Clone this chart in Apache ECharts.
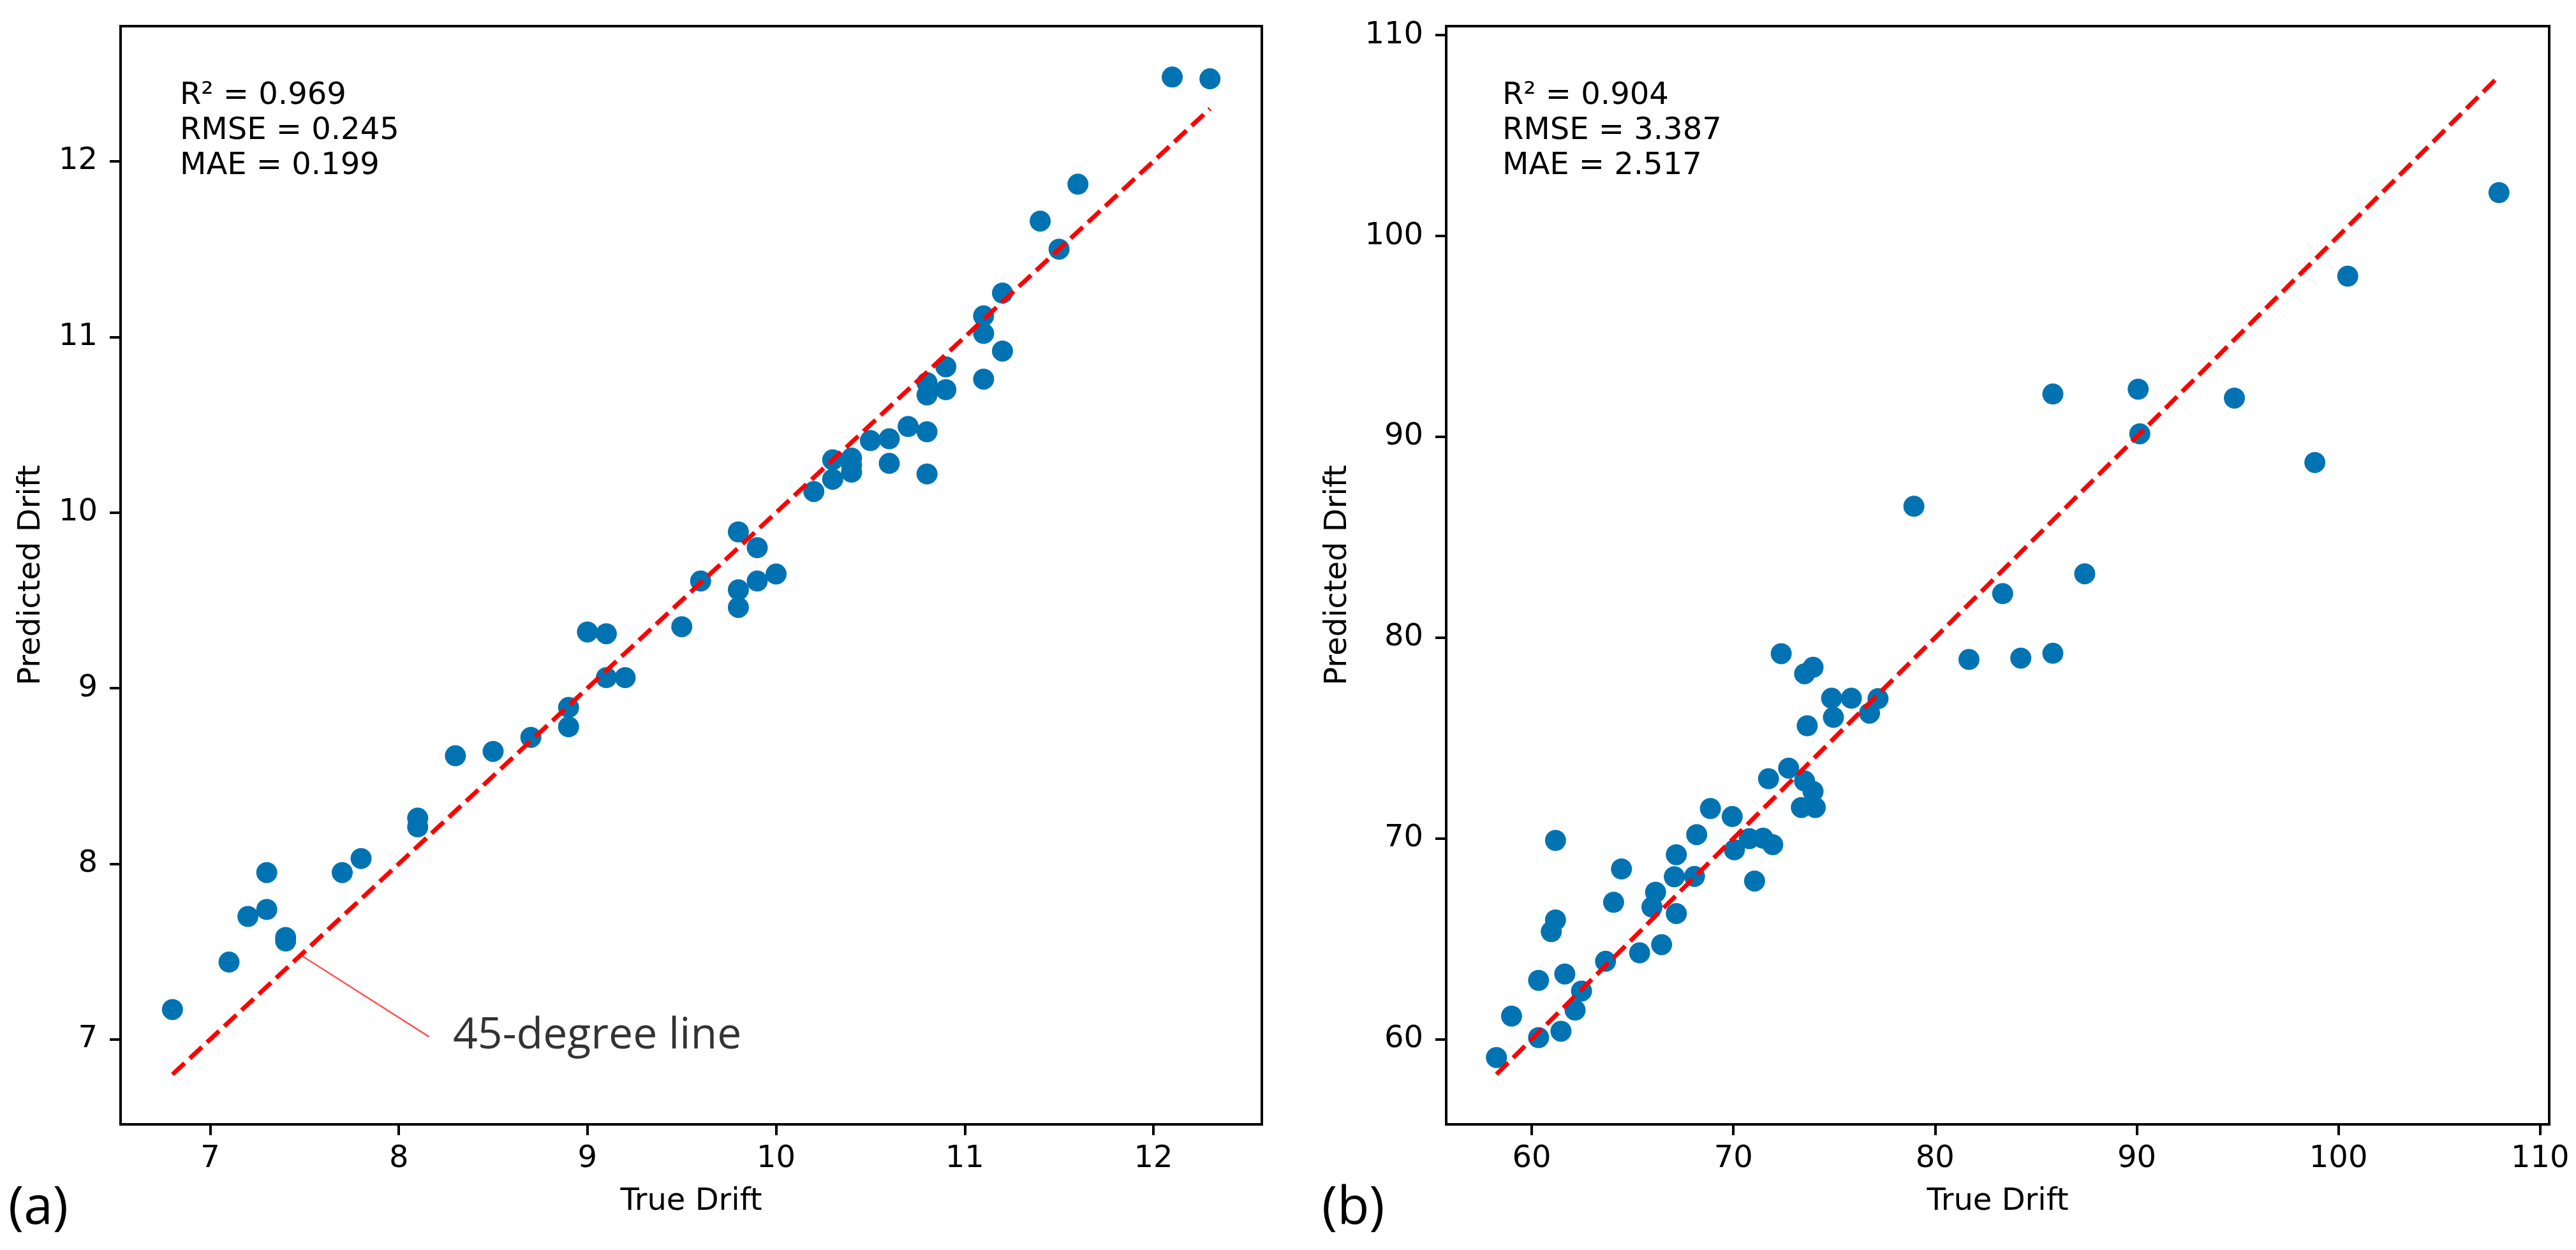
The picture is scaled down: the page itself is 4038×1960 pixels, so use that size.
<!DOCTYPE html>
<html><head><meta charset="utf-8">
<script src="https://cdn.jsdelivr.net/npm/echarts@6/dist/echarts.min.js"></script>
<style>html,body{margin:0;padding:0;background:#fff}#c{width:4038px;height:1960px}</style>
</head><body><div id="c"></div><script>
// ---- data ----
const leftTrue = [6.8,7.1,7.2,7.3,7.3,7.4,7.4,7.7,7.8,8.1,8.1,8.3,8.5,8.7,8.9,8.9,9.0,9.1,9.1,9.2,9.5,9.6,9.8,9.8,9.8,9.9,9.9,10.0,10.2,10.3,10.3,10.4,10.4,10.4,10.5,10.6,10.6,10.7,10.8,10.8,10.8,10.8,10.9,10.9,11.1,11.1,11.1,11.2,11.2,11.4,11.5,11.6,12.1,12.3];
const leftPred = [7.17,7.44,7.70,7.95,7.74,7.58,7.56,7.95,8.03,8.26,8.21,8.615,8.64,8.72,8.89,8.78,9.32,9.31,9.06,9.06,9.35,9.61,9.89,9.56,9.46,9.80,9.61,9.65,10.12,10.30,10.19,10.31,10.27,10.23,10.41,10.42,10.28,10.49,10.74,10.67,10.46,10.22,10.83,10.70,11.12,11.02,10.76,11.25,10.92,11.66,11.50,11.87,12.48,12.47];
const rightTrue = [58.25,59.0,60.34,60.34,60.97,61.18,61.18,61.45,61.64,62.15,62.47,63.66,64.06,64.45,65.35,65.96,66.14,66.44,67.07,67.17,67.17,68.07,68.18,68.86,69.94,70.05,70.79,71.05,71.47,71.95,71.74,72.74,72.37,73.53,73.95,73.66,73.37,73.53,73.95,74.06,74.87,74.96,75.85,76.75,77.17,78.95,81.68,83.35,84.25,85.84,85.84,87.42,90.07,90.15,94.84,98.83,100.46,107.96];
const rightPred = [59.09,61.15,62.93,60.08,65.36,65.94,69.90,60.40,63.25,61.45,62.40,63.88,66.82,68.48,64.30,66.58,67.32,64.71,68.09,69.19,66.26,68.11,70.19,71.49,71.09,69.43,69.99,67.88,70.01,69.69,72.97,73.50,79.20,78.20,78.52,75.61,71.54,72.86,72.34,71.54,76.98,76.03,76.98,76.24,76.96,86.54,78.91,82.19,78.98,92.13,79.22,83.18,92.37,90.15,91.93,88.72,98.0,102.16];
const leftTicks = [7,8,9,10,11,12];
const rightTicks = [60,70,80,90,100,110];
const leftStats = ['R\u00b2 = 0.969','RMSE = 0.245','MAE = 0.199'];
const rightStats = ['R\u00b2 = 0.904','RMSE = 3.387','MAE = 2.517'];
const panelTags = ['(a)','(b)'];
const annotationText = '45-degree line';
const annotationArrow = [[7.48,7.48],[8.16,7.015]];
const annotationAnchor = [8.285,7.02];

// ---- styling ----
const F = 'DejaVu Sans';
const F2 = 'Open Sans';
const BLUE = '#0173b2';
const zip = (a,b)=>a.map((v,i)=>[v,b[i]]);
const diag = arr => { const lo=Math.min(...arr), hi=Math.max(...arr); return [[lo,lo],[hi,hi]]; };

function xAx(g,min,max,ticks){
  return {type:'value',gridIndex:g,min:min,max:max,name:'True Drift',nameLocation:'middle',nameGap:98,
    nameTextStyle:{fontFamily:F,fontSize:48,color:'#000'},
    axisLine:{show:true,onZero:false,lineStyle:{color:'#000',width:4}},
    axisTick:{show:true,length:17,lineStyle:{color:'#000',width:4},customValues:ticks},
    axisLabel:{show:true,margin:31,fontFamily:F,fontSize:48,color:'#000',customValues:ticks},
    splitLine:{show:false}};
}
function yAx(g,min,max,ticks,gap){
  return {type:'value',gridIndex:g,min:min,max:max,name:'Predicted Drift',nameLocation:'middle',nameGap:gap,nameRotate:90,
    nameTextStyle:{fontFamily:F,fontSize:48,color:'#000'},
    axisLine:{show:true,onZero:false,lineStyle:{color:'#000',width:4}},
    axisTick:{show:true,length:17,lineStyle:{color:'#000',width:4},customValues:ticks},
    axisLabel:{show:true,margin:36,fontFamily:F,fontSize:48,color:'#000',customValues:ticks},
    splitLine:{show:false}};
}
function statsTitle(lines,left){
  return {text:lines.join('\n'),left:left,top:118,textStyle:{fontFamily:F,fontSize:48,fontWeight:'normal',color:'#000',lineHeight:55}};
}
function tagTitle(t,left){
  return {text:t,left:left,top:1850,textStyle:{fontFamily:F2,fontSize:82,fontWeight:'normal',color:'#000'}};
}
function dashLine(xi,yi,arr){
  return {type:'line',xAxisIndex:xi,yAxisIndex:yi,data:diag(arr),symbol:'none',silent:true,z:5,
    lineStyle:{color:'#ff0000',width:7,type:[26,11],cap:'butt'}};
}
function pts(xi,yi,a,b){
  return {type:'scatter',xAxisIndex:xi,yAxisIndex:yi,data:zip(a,b),symbol:'circle',symbolSize:33,z:3,
    itemStyle:{color:BLUE,opacity:1}};
}

const chart = echarts.init(document.getElementById('c'),null,{renderer:'canvas',width:4038,height:1960});
chart.setOption({
  animation:false,
  backgroundColor:'#fff',
  title:[statsTitle(leftStats,277),statsTitle(rightStats,2350),tagTitle(panelTags[0],8),tagTitle(panelTags[1],2067)],
  grid:[
    {left:189,top:41,width:1789,height:1722,show:true,borderColor:'#000',borderWidth:4,backgroundColor:'transparent'},
    {left:2267,top:41,width:1729,height:1722,show:true,borderColor:'#000',borderWidth:4,backgroundColor:'transparent'}
  ],
  xAxis:[xAx(0,6.525,12.575,leftTicks),xAx(1,55.76,110.45,rightTicks)],
  yAxis:[yAx(0,6.516,12.77,leftTicks,115),yAx(1,55.76,110.45,rightTicks,145)],
  series:[
    pts(0,0,leftTrue,leftPred),
    dashLine(0,0,leftTrue),
    {type:'line',xAxisIndex:0,yAxisIndex:0,data:annotationArrow,symbol:'none',silent:true,z:4,
      lineStyle:{color:'rgba(255,40,40,0.8)',width:2.5}},
    {type:'scatter',xAxisIndex:0,yAxisIndex:0,data:[annotationAnchor],symbolSize:1,z:6,
      itemStyle:{color:'rgba(0,0,0,0)'},
      label:{show:true,position:'right',distance:0,formatter:annotationText,fontFamily:F2,fontSize:68,color:'#000',align:'left',verticalAlign:'middle'}},
    pts(1,1,rightTrue,rightPred),
    dashLine(1,1,rightTrue)
  ]
});
</script></body></html>
